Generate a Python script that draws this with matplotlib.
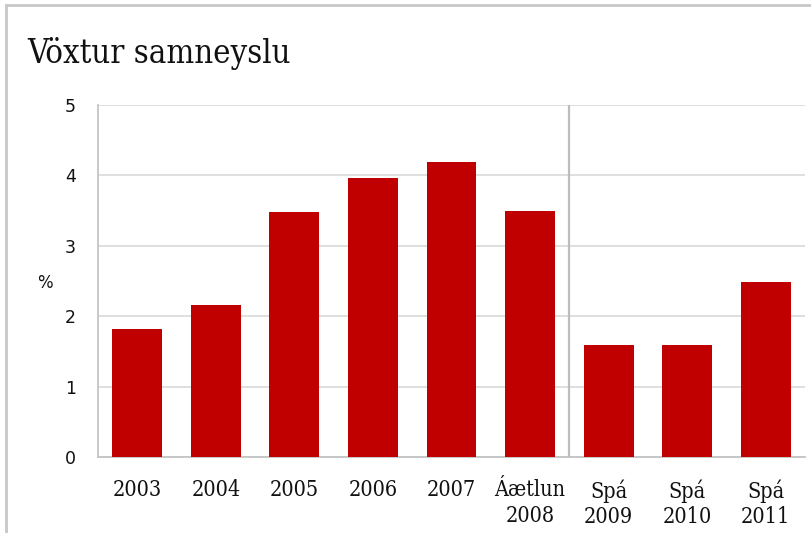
import matplotlib.pyplot as plt
from matplotlib.lines import Line2D

categories = ["2003", "2004", "2005", "2006", "2007", "Áætlun\n2008", "Spá\n2009", "Spá\n2010", "Spá\n2011"]
values = [1.82, 2.16, 3.48, 3.96, 4.19, 3.49, 1.59, 1.59, 2.49]
yticks = [0, 1, 2, 3, 4, 5]

fig = plt.figure(figsize=(8.11, 5.33), dpi=100)
ax = fig.add_axes([98 / 811, 76 / 533, 707 / 811, 352 / 533])

x = range(len(categories))
ax.bar(x, values, width=0.636, color="#c00000", zorder=3)
ax.axvline(5.5, color="#bdbdbd", lw=1.6, zorder=4)

ax.set_xlim(-0.5, len(categories) - 0.5)
ax.set_ylim(0, 5)
ax.set_yticks(yticks)
ax.yaxis.grid(True, color="#dcdcdc", lw=1.3, zorder=0)

for s in ["top", "right"]:
    ax.spines[s].set_visible(False)
for s in ["left", "bottom"]:
    ax.spines[s].set_color("#c4c4c4")
    ax.spines[s].set_linewidth(1.3)

ax.set_xticks(list(x))
ax.set_xticklabels(categories, family="DejaVu Serif", fontstretch="condensed",
                   fontsize=15.5, va="top", linespacing=1.2)
ax.tick_params(axis="x", length=0, pad=16, colors="#111111")
ax.tick_params(axis="y", length=0, pad=16, labelsize=12.5, colors="#111111")

fig.text(45 / 811, 1 - 283 / 533, "%", fontsize=12, ha="center", va="center", color="#111111")
fig.text(27 / 811, 1 - 63 / 533, "Vöxtur samneyslu", family="DejaVu Serif",
         fontstretch="condensed", fontsize=23.5, ha="left", va="baseline", color="#111111")

# outer frame (left and top edges)
fig.add_artist(Line2D([6 / 811, 6 / 811], [0, 1 - 5 / 533], transform=fig.transFigure,
                      color="#c8c8c8", lw=2))
fig.add_artist(Line2D([6 / 811, 1], [1 - 5 / 533, 1 - 5 / 533], transform=fig.transFigure,
                      color="#c8c8c8", lw=2))

fig.savefig("out.png", dpi=100)
